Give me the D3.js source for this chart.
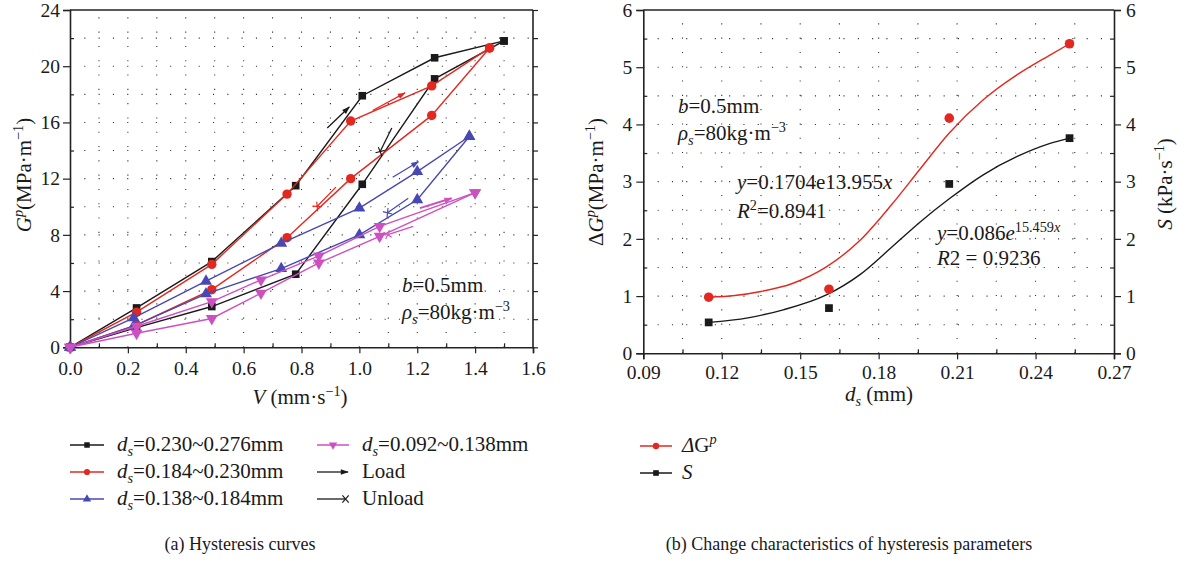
<!DOCTYPE html>
<html>
<head>
<meta charset="utf-8">
<script src="https://cdn.jsdelivr.net/npm/d3@7"></script>
<style>
  body { margin: 0; background: #fff; }
  svg { display: block; font-family: "Liberation Serif", "Times New Roman", serif; }
</style>
</head>
<body>
<svg id="chart" width="1177" height="562"></svg>
<script>
// ---------- Panel (a): hysteresis curves G^p vs V ----------
const seriesLabels = ["0.230~0.276mm", "0.184~0.230mm", "0.138~0.184mm", "0.092~0.138mm"];
const seriesColors = ["#1a1a1a", "#e3281f", "#4848b4", "#cd50c0"];
const seriesSymbols = ["square", "circle", "triangleUp", "triangleDown"];

// loading branch (upper) and unloading branch (lower) for each particle-size range
const loadV_a   = [0, 0.23, 0.49, 0.78, 1.01, 1.26, 1.50];
const loadG_a   = [0, 2.8, 6.1, 11.5, 17.9, 20.6, 21.8];
const unloadV_a = [1.50, 1.26, 1.01, 0.78, 0.49, 0.23, 0];
const unloadG_a = [21.8, 19.1, 11.6, 5.2, 2.9, 1.4, 0];

const loadV_b   = [0, 0.23, 0.49, 0.75, 0.97, 1.25, 1.45];
const loadG_b   = [0, 2.5, 5.9, 10.9, 16.1, 18.6, 21.3];
const unloadV_b = [1.45, 1.25, 0.97, 0.75, 0.49, 0.23, 0];
const unloadG_b = [21.3, 16.5, 12.0, 7.8, 4.1, 1.6, 0];

const loadV_c   = [0, 0.22, 0.47, 0.73, 1.00, 1.20, 1.38];
const loadG_c   = [0, 2.1, 4.7, 7.4, 9.9, 12.5, 15.0];
const unloadV_c = [1.38, 1.20, 1.00, 0.73, 0.47, 0.22, 0];
const unloadG_c = [15.0, 10.5, 8.0, 5.6, 3.8, 1.5, 0];

const loadV_d   = [0, 0.23, 0.49, 0.66, 0.86, 1.07, 1.40];
const loadG_d   = [0, 1.5, 3.25, 4.8, 6.5, 8.6, 11.0];
const unloadV_d = [1.40, 1.07, 0.86, 0.66, 0.49, 0.23, 0];
const unloadG_d = [11.0, 7.9, 6.0, 3.85, 2.05, 1.0, 0];

// direction arrows: [series, V0, G0, V1, G1]
const loadArrows = [
  [0, 0.889, 15.6, 0.965, 17.1],
  [1, 1.046, 16.85, 1.158, 18.1],
  [2, 1.115, 12.1, 1.204, 13.2],
  [3, 1.209, 9.9, 1.319, 10.6]
];
const unloadArrows = [
  [0, 1.112, 15.6, 1.071, 13.9],
  [1, 0.919, 11.4, 0.853, 10.0],
  [2, 1.169, 10.6, 1.096, 9.55],
  [3, 1.186, 8.6, 1.096, 8.0]
];

const vTicks = [0, 0.2, 0.4, 0.6, 0.8, 1.0, 1.2, 1.4, 1.6];
const gTicks = [0, 4, 8, 12, 16, 20, 24];

// ---------- Panel (b): hysteresis parameters vs d_s ----------
const dsMid = [0.115, 0.161, 0.207, 0.253];
const deltaG = [0.98, 1.12, 4.11, 5.41];
const sValues = [0.54, 0.79, 2.96, 3.76];

// smoothed fit curves
const fitDs_dG = [0.115, 0.125, 0.135, 0.147, 0.160, 0.173, 0.185, 0.196, 0.207, 0.220, 0.233, 0.245, 0.253];
const fitDG    = [0.98, 1.01, 1.08, 1.22, 1.51, 1.98, 2.60, 3.23, 3.85, 4.43, 4.87, 5.20, 5.41];
const fitDs_S  = [0.115, 0.130, 0.1435, 0.160, 0.173, 0.1856, 0.196, 0.207, 0.220, 0.233, 0.245, 0.253];
const fitS     = [0.54, 0.62, 0.76, 1.02, 1.38, 1.88, 2.30, 2.70, 3.12, 3.44, 3.66, 3.76];

const dsTicks = [0.09, 0.12, 0.15, 0.18, 0.21, 0.24, 0.27];
const yTicksB = [0, 1, 2, 3, 4, 5, 6];

// ---------- helpers ----------
const svg = d3.select("#chart");
const axisColor = "#222";
const FONT = "'Liberation Serif', 'Times New Roman', serif";
const TICK = 19.5, TXT = 21, CAP = 18;

// text with italic / superscript / subscript runs: parts = [[text, flags]]
function richText(parent, x, y, parts, size, anchor) {
  const t = parent.append("text")
    .attr("x", x).attr("y", y)
    .attr("font-size", size)
    .attr("font-family", FONT)
    .attr("fill", "#1a1a1a")
    .attr("text-anchor", anchor || "start");
  let shift = 0;
  parts.forEach(([str, flags = ""]) => {
    let target = 0;
    if (flags.includes("^")) target = -0.38 * size;
    else if (flags.includes("_")) target = 0.26 * size;
    const ts = t.append("tspan").text(str);
    if (target - shift !== 0) ts.attr("dy", target - shift);
    shift = target;
    if (flags.includes("^") || flags.includes("_")) ts.attr("font-size", size * 0.68);
    if (flags.includes("i")) ts.attr("font-style", "italic");
  });
  return t;
}

function symbolPath(kind, size) {
  const map = {
    square: d3.symbolSquare, circle: d3.symbolCircle,
    triangleUp: d3.symbolTriangle, triangleDown: d3.symbolTriangle
  };
  return d3.symbol().type(map[kind]).size(size)();
}
function drawSymbol(parent, kind, x, y, size, color) {
  parent.append("path")
    .attr("d", symbolPath(kind, size))
    .attr("transform", `translate(${x},${y})` + (kind === "triangleDown" ? " rotate(180)" : ""))
    .attr("fill", color);
}
const symSize = { square: 58, circle: 70, triangleUp: 62, triangleDown: 62 };

function styleAxis(g, size) {
  g.attr("font-family", FONT).attr("font-size", size);
  g.selectAll("text").attr("fill", "#1a1a1a");
  g.selectAll("line").attr("stroke", axisColor).attr("stroke-width", 1.2);
  g.select(".domain").attr("stroke", axisColor).attr("stroke-width", 1.6);
}

// markers for arrows
const defs = svg.append("defs");
seriesColors.forEach((c, i) => {
  defs.append("marker").attr("id", "load" + i)
    .attr("viewBox", "0 0 10 10").attr("refX", 9).attr("refY", 5)
    .attr("markerUnits", "userSpaceOnUse").attr("markerWidth", 9).attr("markerHeight", 8)
    .attr("orient", "auto")
    .append("path").attr("d", "M0,1.5 L10,5 L0,8.5 Z").attr("fill", c);
  defs.append("marker").attr("id", "unload" + i)
    .attr("viewBox", "0 0 10 10").attr("refX", 6).attr("refY", 5)
    .attr("markerUnits", "userSpaceOnUse").attr("markerWidth", 9).attr("markerHeight", 9)
    .attr("orient", "auto")
    .append("path").attr("d", "M2,1 L9,9 M9,1 L2,9").attr("stroke", c)
    .attr("stroke-width", 1.3).attr("fill", "none");
});

function dottedGrid(g, xs, ys, xScale, yScale) {
  const [x0, x1] = xScale.range();
  const [y0, y1] = yScale.range();
  g.selectAll(".vgrid").data(xs).join("line")
    .attr("x1", d => xScale(d)).attr("x2", d => xScale(d))
    .attr("y1", y0).attr("y2", y1)
    .attr("stroke", "#333").attr("stroke-width", 1.1).attr("stroke-dasharray", "1.1,13.2");
  g.selectAll(".hgrid").data(ys).join("line")
    .attr("x1", x0).attr("x2", x1)
    .attr("y1", d => yScale(d)).attr("y2", d => yScale(d))
    .attr("stroke", "#333").attr("stroke-width", 1.1).attr("stroke-dasharray", "1.1,13.2");
}

// ================= Panel (a) =================
const xA = d3.scaleLinear().domain([0, 1.6]).range([70, 533]);
const yA = d3.scaleLinear().domain([0, 24]).range([347.3, 10]);
const gA = svg.append("g");

dottedGrid(gA.append("g"),
  d3.range(1, 16).map(i => i / 10),
  d3.range(1, 12).map(i => i * 2), xA, yA);

// frame
gA.append("line").attr("x1", xA(0)).attr("x2", xA(1.6)).attr("y1", yA(24)).attr("y2", yA(24))
  .attr("stroke", axisColor).attr("stroke-width", 1.6);
gA.append("line").attr("x1", xA(1.6)).attr("x2", xA(1.6)).attr("y1", yA(0)).attr("y2", yA(24))
  .attr("stroke", axisColor).attr("stroke-width", 1.6);

const axXA = gA.append("g").attr("transform", `translate(0,${yA(0)})`)
  .call(d3.axisBottom(xA).tickValues(vTicks).tickFormat(d3.format(".1f")).tickSize(6).tickPadding(8));
styleAxis(axXA, TICK);
const axXAm = gA.append("g").attr("transform", `translate(0,${yA(0)})`)
  .call(d3.axisBottom(xA).tickValues(d3.range(1, 16, 2).map(i => i / 10)).tickFormat("").tickSize(-4));
styleAxis(axXAm, TICK); axXAm.select(".domain").remove();

const axYA = gA.append("g").attr("transform", `translate(${xA(0)},0)`)
  .call(d3.axisLeft(yA).tickValues(gTicks).tickSize(7).tickPadding(3));
styleAxis(axYA, TICK);
const axYAm = gA.append("g").attr("transform", `translate(${xA(0)},0)`)
  .call(d3.axisLeft(yA).tickValues(d3.range(1, 12, 2).map(i => i * 2)).tickFormat("").tickSize(-4));
styleAxis(axYAm, TICK); axYAm.select(".domain").remove();
const axYAr = gA.append("g").attr("transform", `translate(${xA(1.6)},0)`)
  .call(d3.axisRight(yA).tickValues(d3.range(0, 13).map(i => i * 2)).tickFormat("").tickSize(5));
styleAxis(axYAr, TICK); axYAr.select(".domain").remove();

// curves
const loadSets = [[loadV_a, loadG_a], [loadV_b, loadG_b], [loadV_c, loadG_c], [loadV_d, loadG_d]];
const unloadSets = [[unloadV_a, unloadG_a], [unloadV_b, unloadG_b], [unloadV_c, unloadG_c], [unloadV_d, unloadG_d]];
const lineA = d3.line().x(d => xA(d[0])).y(d => yA(d[1]));

seriesLabels.forEach((_, i) => {
  const col = seriesColors[i];
  const sg = gA.append("g");
  [loadSets[i], unloadSets[i]].forEach(([vs, gs]) => {
    const pts = vs.map((v, k) => [v, gs[k]]);
    sg.append("path").attr("d", lineA(pts)).attr("fill", "none")
      .attr("stroke", col).attr("stroke-width", 1.4);
  });
  [loadSets[i], unloadSets[i]].forEach(([vs, gs]) => {
    vs.forEach((v, k) => drawSymbol(sg, seriesSymbols[i], xA(v), yA(gs[k]), symSize[seriesSymbols[i]], col));
  });
});

// direction arrows
loadArrows.forEach(([s, v0, g0, v1, g1]) => {
  gA.append("line").attr("x1", xA(v0)).attr("y1", yA(g0)).attr("x2", xA(v1)).attr("y2", yA(g1))
    .attr("stroke", seriesColors[s]).attr("stroke-width", s === 3 ? 2 : 1.3)
    .attr("marker-end", `url(#load${s})`);
});
unloadArrows.forEach(([s, v0, g0, v1, g1]) => {
  gA.append("line").attr("x1", xA(v0)).attr("y1", yA(g0)).attr("x2", xA(v1)).attr("y2", yA(g1))
    .attr("stroke", seriesColors[s]).attr("stroke-width", 1.3)
    .attr("marker-end", `url(#unload${s})`);
});

// annotation
richText(gA, 402, 292, [["b", "i"], ["=0.5mm"]], TXT);
richText(gA, 402, 318.5, [["ρ", "i"], ["s", "i_"], ["=80kg·m"], ["−3", "^"]], TXT);

// axis titles
richText(gA, 300, 404, [["V", "i"], [" (mm·s"], ["−1", "^"], [")"]], TXT, "middle");
richText(gA.append("g").attr("transform", "translate(31,175) rotate(-90)"), 0, 0,
  [["G", "i"], ["p", "i^"], ["(MPa·m"], ["−1", "^"], [")"]], TXT, "middle");

// legend
const legA = gA.append("g");
const legRowY = [445, 472, 499];
seriesLabels.forEach((lab, i) => {
  const col = i < 3 ? 0 : 1;
  const row = i < 3 ? i : 0;
  const x0 = col === 0 ? 70 : 317, x1 = col === 0 ? 104 : 349, tx = col === 0 ? 117 : 362;
  const y = legRowY[row];
  legA.append("line").attr("x1", x0).attr("x2", x1).attr("y1", y).attr("y2", y)
    .attr("stroke", seriesColors[i]).attr("stroke-width", 1.5);
  drawSymbol(legA, seriesSymbols[i], (x0 + x1) / 2, y, 30, seriesColors[i]);
  richText(legA, tx, y + 6, [["d", "i"], ["s", "i_"], ["=" + lab]], TXT);
});
legA.append("line").attr("x1", 317).attr("x2", 348).attr("y1", legRowY[1]).attr("y2", legRowY[1])
  .attr("stroke", "#1a1a1a").attr("stroke-width", 1.3).attr("marker-end", "url(#load0)");
richText(legA, 362, legRowY[1] + 6, [["Load"]], TXT);
legA.append("line").attr("x1", 317).attr("x2", 346).attr("y1", legRowY[2]).attr("y2", legRowY[2])
  .attr("stroke", "#1a1a1a").attr("stroke-width", 1.3).attr("marker-end", "url(#unload0)");
richText(legA, 362, legRowY[2] + 6, [["Unload"]], TXT);

richText(gA, 240, 550, [["(a) Hysteresis curves"]], CAP, "middle");

// ================= Panel (b) =================
const xB = d3.scaleLinear().domain([0.09, 0.27]).range([643.3, 1114]);
const yB = d3.scaleLinear().domain([0, 6]).range([353.3, 10]);
const gB = svg.append("g");

dottedGrid(gB.append("g"),
  d3.range(1, 12).map(i => 0.09 + i * 0.015),
  d3.range(1, 12).map(i => i * 0.5), xB, yB);

gB.append("line").attr("x1", xB(0.09)).attr("x2", xB(0.27)).attr("y1", yB(6)).attr("y2", yB(6))
  .attr("stroke", axisColor).attr("stroke-width", 1.6);

const axXB = gB.append("g").attr("transform", `translate(0,${yB(0)})`)
  .call(d3.axisBottom(xB).tickValues(dsTicks).tickFormat(d3.format(".2f")).tickSize(6).tickPadding(6));
styleAxis(axXB, TICK);
const axXBm = gB.append("g").attr("transform", `translate(0,${yB(0)})`)
  .call(d3.axisBottom(xB).tickValues(d3.range(0, 6).map(i => 0.105 + i * 0.03)).tickFormat("").tickSize(-4));
styleAxis(axXBm, TICK); axXBm.select(".domain").remove();

const axYB = gB.append("g").attr("transform", `translate(${xB(0.09)},0)`)
  .call(d3.axisLeft(yB).tickValues(yTicksB).tickFormat(d3.format("d")).tickSize(7).tickPadding(4));
styleAxis(axYB, TICK);
const axYBr = gB.append("g").attr("transform", `translate(${xB(0.27)},0)`)
  .call(d3.axisRight(yB).tickValues(yTicksB).tickFormat(d3.format("d")).tickSize(7).tickPadding(5));
styleAxis(axYBr, TICK);
[axYB, axYBr].forEach((ax, k) => {
  const m = gB.append("g").attr("transform", `translate(${xB(k ? 0.27 : 0.09)},0)`)
    .call((k ? d3.axisRight(yB) : d3.axisLeft(yB)).tickValues(d3.range(0, 6).map(i => i + 0.5)).tickFormat("").tickSize(-4));
  styleAxis(m, TICK); m.select(".domain").remove();
});

const lineB = d3.line().x(d => xB(d[0])).y(d => yB(d[1])).curve(d3.curveMonotoneX);
gB.append("path").attr("d", lineB(fitDs_dG.map((x, k) => [x, fitDG[k]])))
  .attr("fill", "none").attr("stroke", seriesColors[1]).attr("stroke-width", 1.4);
gB.append("path").attr("d", lineB(fitDs_S.map((x, k) => [x, fitS[k]])))
  .attr("fill", "none").attr("stroke", seriesColors[0]).attr("stroke-width", 1.4);
dsMid.forEach((d, k) => {
  drawSymbol(gB, "circle", xB(d), yB(deltaG[k]), 72, seriesColors[1]);
  drawSymbol(gB, "square", xB(d), yB(sValues[k]), 60, seriesColors[0]);
});

richText(gB, 678, 113, [["b", "i"], ["=0.5mm"]], TXT);
richText(gB, 678, 140, [["ρ", "i"], ["s", "i_"], ["=80kg·m"], ["−3", "^"]], TXT);
richText(gB, 737, 189, [["y", "i"], ["=0.1704e13.955"], ["x", "i"]], TXT);
richText(gB, 737, 218, [["R", "i"], ["2", "^"], ["=0.8941"]], TXT);
richText(gB, 937, 240, [["y", "i"], ["=0.086"], ["e", "i"], ["15.459", "^"], ["x", "i^"]], TXT);
richText(gB, 937, 265, [["R", "i"], ["2 = 0.9236"]], TXT);

richText(gB, 879, 401, [["d", "i"], ["s", "i_"], [" (mm)"]], TXT, "middle");
richText(gB.append("g").attr("transform", "translate(603,182) rotate(-90)"), 0, 0,
  [["Δ"], ["G", "i"], ["p", "i^"], ["(MPa·m"], ["−1", "^"], [")"]], TXT, "middle");
richText(gB.append("g").attr("transform", "translate(1172,184) rotate(-90)"), 0, 0,
  [["S", "i"], [" (kPa·s"], ["−1", "^"], [")"]], TXT, "middle");

// legend (b)
const legB = gB.append("g");
[["circle", seriesColors[1], [["Δ", "i"], ["G"], ["p", "i^"]]],
 ["square", seriesColors[0], [["S", "i"]]]].forEach(([sym, col, parts], k) => {
  const y = 446 + k * 27;
  legB.append("line").attr("x1", 640).attr("x2", 672).attr("y1", y).attr("y2", y)
    .attr("stroke", col).attr("stroke-width", 1.5);
  drawSymbol(legB, sym, 656, y, 32, col);
  richText(legB, 682, y + 6, parts, TXT);
});

richText(gB, 849, 550, [["(b) Change characteristics of hysteresis parameters"]], CAP, "middle");
</script>
</body>
</html>
